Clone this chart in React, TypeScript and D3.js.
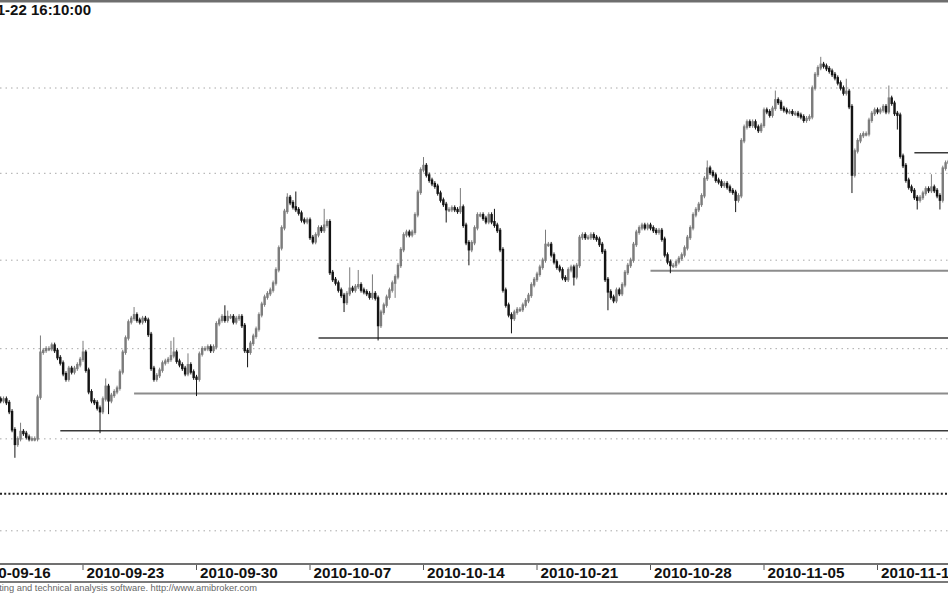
import React from 'react';
import * as d3 from 'd3';

const W = 948;
const H = 593;

// trading days (8 hourly bars per day)
const tradingDays = [
  '2010-09-16','2010-09-17','2010-09-20','2010-09-21','2010-09-22','2010-09-23','2010-09-24',
  '2010-09-27','2010-09-28','2010-09-29','2010-09-30','2010-10-01','2010-10-04','2010-10-05',
  '2010-10-06','2010-10-07','2010-10-08','2010-10-11','2010-10-12','2010-10-13','2010-10-14',
  '2010-10-15','2010-10-18','2010-10-19','2010-10-20','2010-10-21','2010-10-22','2010-10-25',
  '2010-10-26','2010-10-27','2010-10-28','2010-10-29','2010-11-02','2010-11-03','2010-11-04',
  '2010-11-05','2010-11-08','2010-11-09','2010-11-10','2010-11-12','2010-11-15','2010-11-16',
  '2010-11-17','2010-11-18',
];
const barsPerDay = 8;
const firstBar = 9;

const closes = [
  2624, 2622, 2621, 2622, 2620, 2615, 2605,
  2597, 2600, 2604, 2603, 2601, 2600, 2600, 2600,
  2623, 2648, 2649, 2650, 2650, 2652, 2649, 2645,
  2642, 2636, 2633, 2639, 2637, 2639, 2641, 2644,
  2648, 2638, 2626, 2621, 2620, 2617, 2615, 2622,
  2629, 2621, 2624, 2626, 2628, 2637, 2648, 2656,
  2665, 2667, 2669, 2666, 2665, 2667, 2666, 2658,
  2639, 2633, 2635, 2638, 2642, 2643, 2644, 2646,
  2648, 2643, 2641, 2639, 2636, 2641, 2637, 2634,
  2633, 2647, 2650, 2650, 2651, 2649, 2651, 2664,
  2666, 2668, 2666, 2668, 2668, 2665, 2667, 2668,
  2663, 2649, 2648, 2653, 2657, 2661, 2669, 2675,
  2679, 2681, 2683, 2687, 2694.5, 2707, 2718.5, 2728,
  2736, 2733, 2730.5, 2729, 2727, 2723, 2722, 2723,
  2713, 2710.5, 2714.5, 2718.5, 2717, 2720, 2722, 2693,
  2689, 2687, 2683, 2680, 2676, 2681, 2684, 2683,
  2685, 2686, 2683, 2682, 2681, 2679, 2681, 2678.5,
  2663, 2670.5, 2674.5, 2679, 2683, 2687, 2690.5, 2697,
  2706, 2714.5, 2716, 2714.5, 2716, 2726, 2739, 2752,
  2754.5, 2749, 2746, 2744, 2742.5, 2738.5, 2734.5, 2732,
  2729, 2729, 2730, 2729, 2728, 2730.5, 2720, 2710,
  2706, 2710, 2718.5, 2726, 2726, 2724, 2722, 2726,
  2722, 2720, 2717, 2706, 2683, 2674.5, 2669, 2667,
  2670.5, 2672, 2672, 2674.5, 2677, 2680, 2686, 2689,
  2692, 2696, 2700, 2709, 2709, 2703, 2699, 2696,
  2694.5, 2690, 2689, 2694.5, 2696, 2690.5, 2697, 2713,
  2714.5, 2713, 2713, 2714.5, 2713, 2712, 2709, 2705,
  2689, 2682, 2679, 2677, 2683, 2681, 2686, 2693,
  2697, 2700, 2709, 2716, 2718.5, 2720, 2718.5, 2720,
  2718.5, 2717, 2716, 2717, 2712, 2703, 2699, 2697,
  2697, 2699, 2701, 2703, 2707, 2713, 2718.5, 2726,
  2729, 2732, 2737, 2747, 2753, 2750.5, 2749, 2746,
  2745, 2743, 2744, 2742, 2740, 2739, 2734.5, 2737,
  2769, 2777, 2780, 2778, 2780, 2777, 2775, 2778,
  2787, 2786, 2784, 2788, 2793, 2791.5, 2788, 2787,
  2786, 2786, 2785, 2785, 2784, 2783, 2781, 2782,
  2783, 2800, 2808, 2812, 2814, 2813, 2811.5, 2810,
  2808, 2806, 2803, 2800, 2797, 2798, 2789, 2749,
  2763, 2769, 2772, 2773, 2773, 2781, 2785, 2787,
  2786, 2787, 2789, 2786, 2794, 2791, 2785, 2784,
  2760, 2754.5, 2746, 2742, 2740, 2736, 2734.5, 2736,
  2738.5, 2741, 2740, 2742, 2740, 2737, 2734.5, 2753,
  2756, 2757,
];

// notable wick extremes
const highIdx = [18, 25, 40, 48, 58, 71, 72, 77, 90, 91, 112, 115, 125, 134, 137, 142, 160, 173, 185, 203, 260, 284, 300, 309, 324, 339];
const highVal = [2607.5, 2656, 2653, 2632, 2672, 2653, 2655, 2646, 2673, 2670, 2737, 2738, 2728, 2694.5, 2693, 2690.5, 2758, 2740, 2728, 2716, 2756, 2797, 2817, 2804, 2800, 2748];
const lowIdx = [16, 46, 49, 80, 98, 132, 144, 150, 168, 176, 191, 213, 225, 247, 270, 311, 327, 334, 342];
const lowVal = [2591, 2604.5, 2615, 2625, 2641, 2672, 2656, 2680, 2723, 2698.5, 2660, 2687, 2673, 2694, 2729, 2740, 2777, 2730.5, 2730.5];

const tickLabels = ['2010-09-16','2010-09-23','2010-09-30','2010-10-07','2010-10-14','2010-10-21','2010-10-28','2010-11-05','2010-11-15'];
const gridPrices = [2550, 2600, 2650, 2700, 2750, 2800];

// horizontal support / resistance lines
const levelPrices = [2604.5, 2625, 2656, 2694, 2762];
const levelStart = [32, 58, 123, 240, 333];
const levelDark = [true, false, true, false, true];
const dottedLevel = 2570;

const titleText = '2010-11-22 16:10:00';
const footerText = 'AmiBroker - advanced charting and technical analysis software. http://www.amibroker.com';

const FONT = 'Arial, "Liberation Sans", sans-serif';

export default function App() {
  const x = d3.scaleLinear().domain([40, 320]).range([83, 877.5]);
  const y = d3.scaleLog().domain([2550, 2800]).range([530.8, 88]);
  const step = x(1) - x(0);
  const bw = step * 0.86;

  const hiMap = new Map<number, number>();
  highIdx.forEach((k, j) => hiMap.set(k, highVal[j]));
  const loMap = new Map<number, number>();
  lowIdx.forEach((k, j) => loMap.set(k, lowVal[j]));

  const bars = closes.map((c, k) => {
    const i = firstBar + k;
    const o = k === 0 ? c : closes[k - 1];
    const hi = Math.max(o, c, hiMap.get(i) ?? -Infinity);
    const lo = Math.min(o, c, loMap.get(i) ?? Infinity);
    return { i, o, c, hi, lo };
  });

  const dayIndex = (d: string) => tradingDays.indexOf(d) * barsPerDay;

  return (
    <svg width={W} height={H} style={{ position: 'absolute', left: 0, top: 0, background: '#fff' }}>
      <rect x={0} y={0} width={W} height={H} fill="#fff" />
      {/* top border */}
      <rect x={0} y={0} width={W} height={2.5} fill="#6e6e6e" />
      {/* grid */}
      {gridPrices.map((p) => (
        <line key={p} x1={0} x2={W} y1={y(p)} y2={y(p)} stroke="#a8a8a8" strokeWidth={1} strokeDasharray="1.5,4" />
      ))}
      {/* thick dotted level */}
      <line x1={0} x2={W} y1={y(dottedLevel)} y2={y(dottedLevel)} stroke="#222" strokeWidth={2} strokeDasharray="2,2.2" />
      {/* support lines */}
      {levelPrices.map((p, j) => (
        <line key={j} x1={x(levelStart[j])} x2={W} y1={y(p)} y2={y(p)}
          stroke={levelDark[j] ? '#3a3a3a' : '#8c8c8c'} strokeWidth={levelDark[j] ? 1.5 : 2} />
      ))}
      {/* candles */}
      {bars.map((b) => {
        const up = b.c >= b.o;
        const col = up ? '#7c7c7c' : '#141414';
        const cx = x(b.i);
        const top = y(Math.max(b.o, b.c));
        const bot = y(Math.min(b.o, b.c));
        return (
          <g key={b.i}>
            <line x1={cx} x2={cx} y1={y(b.hi) - 2.5} y2={y(b.lo) + 2.5} stroke={col} strokeWidth={1} />
            <rect x={cx - bw / 2} y={top - 0.75} width={bw} height={Math.max(2.5, bot - top + 1.5)} fill={col} />
          </g>
        );
      })}
      {/* title */}
      <text x={91} y={15} textAnchor="end" fontFamily={FONT} fontWeight="bold" fontSize={15} fill="#111">{titleText}</text>
      {/* x axis band */}
      <rect x={0} y={563} width={W} height={2} fill="#707070" />
      <rect x={0} y={581} width={W} height={2} fill="#7a7a7a" />
      {tickLabels.map((d) => {
        const tx = x(dayIndex(d));
        return (
          <g key={d}>
            <line x1={tx} x2={tx} y1={565} y2={570} stroke="#555" strokeWidth={1} />
            <text x={tx + 3.5} y={577.5} fontFamily={FONT} fontWeight="bold" fontSize={15.2} fill="#111">{d}</text>
          </g>
        );
      })}
      <text x={257} y={591} textAnchor="end" fontFamily={FONT} fontSize={9.3} fill="#666">{footerText}</text>
    </svg>
  );
}
